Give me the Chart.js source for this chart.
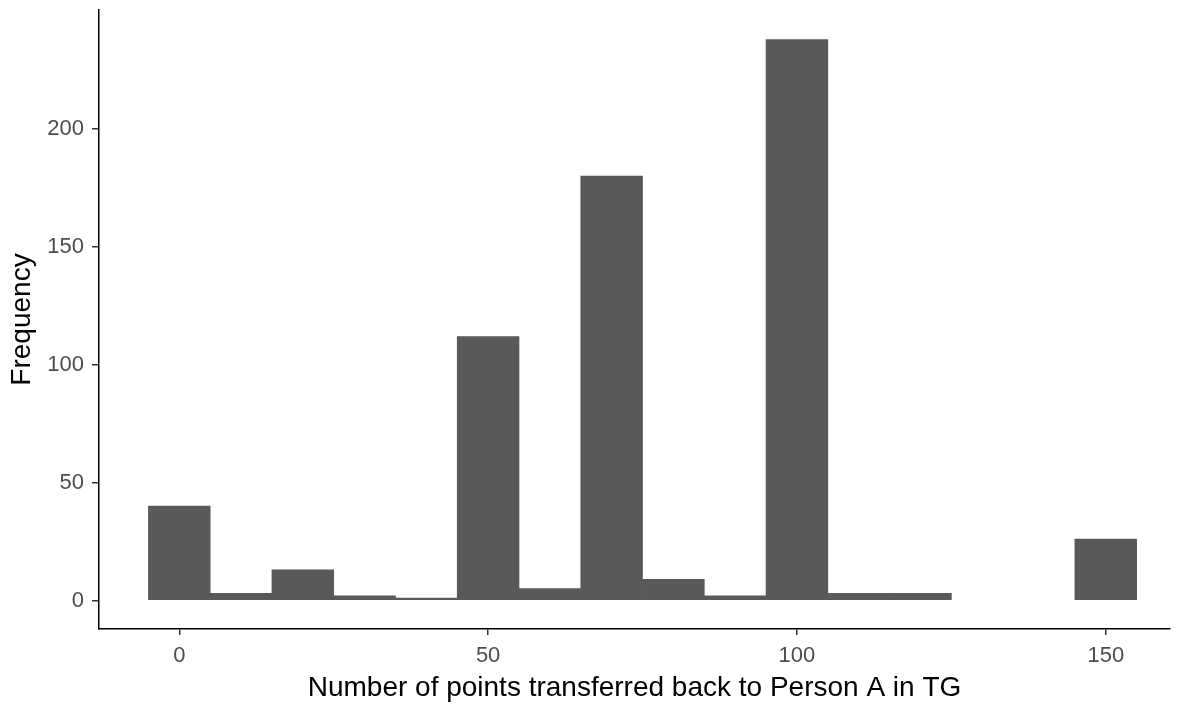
<!DOCTYPE html>
<html>
<head>
<meta charset="utf-8">
<script src="https://cdn.jsdelivr.net/npm/chart.js@4"></script>
<style>
  html, body { margin: 0; padding: 0; background: #fff; }
  #wrap { width: 1184px; height: 707px; }
</style>
</head>
<body>
<div id="wrap"><canvas id="chart"></canvas></div>
<script>
// histogram bins (centre of each 10-point bin) and counts
const binCentres = [0, 10, 20, 30, 40, 50, 60, 70, 80, 90, 100, 110, 120, 130, 140, 150];
const counts = [40, 3, 13, 2, 1, 112, 5, 180, 9, 2, 238, 3, 3, 0, 0, 26];
const xTicks = [0, 50, 100, 150];
const yTicks = [0, 50, 100, 150, 200];

let points = [];
for (let i in binCentres) {
    // empty bins are left out so no hairline is drawn
    points.push({ x: binCentres[i], y: counts[i] > 0 ? counts[i] : null });
}

const tickFont = { family: 'Arial, "Liberation Sans", sans-serif', size: 22 };
const titleFont = { family: 'Arial, "Liberation Sans", sans-serif', size: 28 };

let ctx = document.getElementById('chart');
let bar = new Chart(ctx, {
    type: 'bar',
    data: {
        datasets: [{
            label: 'Frequency',
            data: points,
            backgroundColor: '#595959',
            borderWidth: 0,
            barPercentage: 1.0,
            categoryPercentage: 1.0
        }]
    },
    options: {
        responsive: true,
        maintainAspectRatio: false,
        animation: false,
        layout: { padding: { top: 10, right: 14, left: 0, bottom: 0 } },
        plugins: { legend: { display: false }, tooltip: { enabled: false } },
        scales: {
            x: {
                type: 'linear',
                offset: false,
                min: -13.0,
                max: 160.4,
                afterBuildTicks: function(axis) {
                    axis.ticks = xTicks.map(v => ({ value: v }));
                },
                afterFit: function(axis) {
                    axis.height = 78;
                    axis.paddingLeft = 0;
                    axis.paddingRight = 0;
                },
                grid: { offset: false, drawOnChartArea: false, drawTicks: true, tickLength: 6, color: '#333333', lineWidth: 1.5 },
                border: { display: true, color: '#000000', width: 1.5 },
                ticks: { color: '#4d4d4d', font: tickFont, padding: 8, maxRotation: 0 },
                title: { display: true, text: 'Number of points transferred back to Person A in TG', color: '#000000', font: titleFont, padding: { top: 0, bottom: 2 } }
            },
            y: {
                min: -12.1,
                max: 250.5,
                afterBuildTicks: function(axis) {
                    axis.ticks = yTicks.map(v => ({ value: v }));
                },
                afterFit: function(axis) {
                    axis.width = 99;
                    axis.paddingTop = 0;
                    axis.paddingBottom = 0;
                },
                grid: { drawOnChartArea: false, drawTicks: true, tickLength: 7, color: '#333333', lineWidth: 1.5 },
                border: { display: true, color: '#000000', width: 1.5 },
                ticks: { color: '#4d4d4d', font: tickFont, padding: 8 },
                title: { display: true, text: 'Frequency', color: '#000000', font: titleFont, padding: { top: 5, bottom: 0 } }
            }
        }
    }
});
</script>
</body>
</html>
